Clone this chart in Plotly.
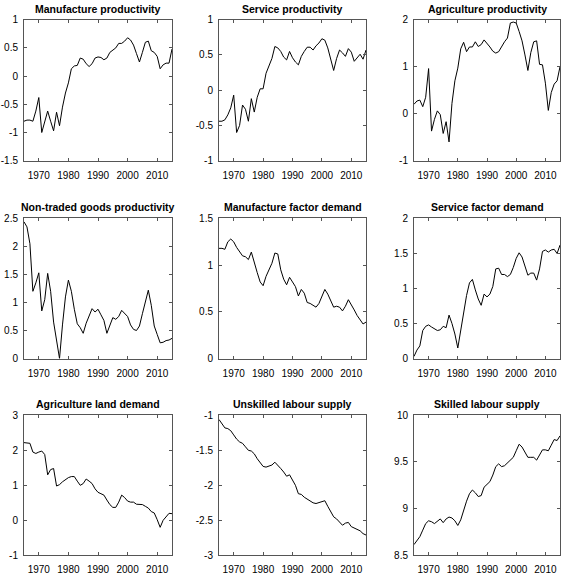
import plotly.graph_objects as go

years = list(range(1965, 2016))

titles = ["Manufacture productivity", "Service productivity", "Agriculture productivity",
          "Non-traded goods productivity", "Manufacture factor demand", "Service factor demand",
          "Agriculture land demand", "Unskilled labour supply", "Skilled labour supply"]

manuf_prod = [-0.80, -0.78, -0.78, -0.80, -0.62, -0.38, -1.00, -0.80, -0.62, -0.80,
              -0.97, -0.64, -0.88, -0.55, -0.30, -0.12, 0.13, 0.18, 0.19, 0.32,
              0.30, 0.22, 0.17, 0.22, 0.32, 0.34, 0.33, 0.29, 0.32, 0.42,
              0.46, 0.50, 0.58, 0.58, 0.62, 0.68, 0.64, 0.55, 0.40, 0.25,
              0.42, 0.60, 0.62, 0.45, 0.42, 0.35, 0.13, 0.20, 0.23, 0.23, 0.48]
service_prod = [-0.44, -0.44, -0.42, -0.35, -0.25, -0.07, -0.60, -0.50, -0.21, -0.27,
                -0.44, -0.12, -0.31, -0.10, 0.02, 0.02, 0.24, 0.35, 0.45, 0.62,
                0.60, 0.55, 0.47, 0.43, 0.55, 0.46, 0.40, 0.36, 0.48, 0.55,
                0.61, 0.61, 0.57, 0.63, 0.67, 0.73, 0.71, 0.60, 0.42, 0.28,
                0.45, 0.57, 0.53, 0.48, 0.59, 0.54, 0.41, 0.46, 0.51, 0.44, 0.57]
agri_prod = [0.20, 0.27, 0.29, 0.15, 0.35, 0.96, -0.37, -0.12, 0.06, -0.02,
             -0.42, -0.17, -0.60, 0.22, 0.70, 0.97, 1.38, 1.52, 1.32, 1.42,
             1.42, 1.53, 1.43, 1.47, 1.57, 1.50, 1.42, 1.33, 1.29, 1.32,
             1.44, 1.53, 1.61, 1.93, 1.95, 1.93, 1.75, 1.55, 1.25, 0.92,
             1.30, 1.53, 1.55, 1.05, 1.04, 0.65, 0.07, 0.45, 0.63, 0.70, 1.00]
nontraded_prod = [2.44, 2.35, 2.05, 1.20, 1.35, 1.53, 0.85, 1.05, 1.52, 1.20,
                  0.65, 0.35, 0.00, 0.60, 1.10, 1.40, 1.20, 0.88, 0.62, 0.55,
                  0.45, 0.63, 0.75, 0.89, 0.83, 0.88, 0.78, 0.68, 0.45, 0.60,
                  0.73, 0.70, 0.75, 0.86, 0.80, 0.75, 0.60, 0.52, 0.50, 0.58,
                  0.80, 1.02, 1.22, 0.95, 0.58, 0.43, 0.28, 0.29, 0.32, 0.33, 0.36]
manuf_demand = [1.18, 1.18, 1.17, 1.25, 1.28, 1.25, 1.19, 1.15, 1.10, 1.09,
                1.06, 1.14, 1.02, 0.92, 0.82, 0.78, 0.88, 0.95, 1.02, 1.13,
                1.12, 0.95, 0.85, 0.79, 0.87, 0.82, 0.77, 0.67, 0.74, 0.70,
                0.60, 0.59, 0.57, 0.55, 0.59, 0.66, 0.74, 0.69, 0.61, 0.55,
                0.56, 0.55, 0.51, 0.56, 0.63, 0.58, 0.52, 0.46, 0.41, 0.37, 0.39]
service_demand = [0.03, 0.12, 0.18, 0.40, 0.46, 0.48, 0.45, 0.42, 0.40, 0.41,
                  0.46, 0.44, 0.62, 0.50, 0.35, 0.15, 0.42, 0.68, 0.90, 1.08,
                  1.13, 0.98, 0.85, 0.76, 0.92, 0.88, 0.92, 1.03, 1.28, 1.29,
                  1.20, 1.20, 1.17, 1.20, 1.30, 1.43, 1.51, 1.45, 1.33, 1.19,
                  1.22, 1.22, 1.12, 1.28, 1.53, 1.55, 1.52, 1.55, 1.56, 1.50, 1.62]
land_demand = [2.22, 2.20, 2.20, 1.95, 1.91, 1.95, 1.98, 1.88, 1.30, 1.45,
               1.48, 0.98, 1.02, 1.10, 1.17, 1.22, 1.25, 1.25, 1.12, 1.00,
               1.05, 1.18, 1.12, 1.05, 0.90, 0.80, 0.76, 0.72, 0.58, 0.45,
               0.37, 0.37, 0.52, 0.72, 0.65, 0.55, 0.52, 0.52, 0.46, 0.45,
               0.45, 0.40, 0.35, 0.25, 0.21, 0.02, -0.20, 0.00, 0.10, 0.20, 0.19]
unskilled_supply = [-1.06, -1.12, -1.18, -1.19, -1.22, -1.28, -1.34, -1.38, -1.40, -1.45,
                    -1.50, -1.51, -1.55, -1.62, -1.68, -1.73, -1.74, -1.73, -1.71, -1.67,
                    -1.71, -1.76, -1.81, -1.87, -1.85, -1.92, -2.00, -2.12, -2.13, -2.17,
                    -2.20, -2.22, -2.25, -2.26, -2.25, -2.24, -2.22, -2.30, -2.38, -2.45,
                    -2.48, -2.52, -2.57, -2.54, -2.53, -2.59, -2.61, -2.63, -2.65, -2.69, -2.71]
skilled_supply = [8.615, 8.66, 8.70, 8.77, 8.84, 8.87, 8.86, 8.84, 8.87, 8.89,
                  8.85, 8.89, 8.91, 8.90, 8.87, 8.82, 8.88, 8.99, 9.08, 9.16,
                  9.20, 9.17, 9.13, 9.14, 9.23, 9.26, 9.29, 9.36, 9.45, 9.48,
                  9.45, 9.46, 9.49, 9.52, 9.55, 9.62, 9.69, 9.66, 9.60, 9.55,
                  9.55, 9.55, 9.52, 9.57, 9.63, 9.63, 9.62, 9.68, 9.74, 9.73, 9.78]

series = [manuf_prod, service_prod, agri_prod, nontraded_prod, manuf_demand,
          service_demand, land_demand, unskilled_supply, skilled_supply]

y_ranges = [[-1.5, 1], [-1, 1], [-1, 2], [0, 2.5], [0, 1.5], [0, 2], [-1, 3], [-3, -1], [8.5, 10]]
y_ticks = [[-1.5, -1, -0.5, 0, 0.5, 1], [-1, -0.5, 0, 0.5, 1], [-1, 0, 1, 2],
           [0, 0.5, 1, 1.5, 2, 2.5], [0, 0.5, 1, 1.5], [0, 0.5, 1, 1.5, 2],
           [-1, 0, 1, 2, 3], [-3, -2.5, -2, -1.5, -1], [8.5, 9, 9.5, 10]]
y_tick_labels = [["-1.5", "-1", "-0.5", "0", "0.5", "1"], ["-1", "-0.5", "0", "0.5", "1"],
                 ["-1", "0", "1", "2"], ["0", "0.5", "1", "1.5", "2", "2.5"],
                 ["0", "0.5", "1", "1.5"], ["0", "0.5", "1", "1.5", "2"],
                 ["-1", "0", "1", "2", "3"], ["-3", "-2.5", "-2", "-1.5", "-1"],
                 ["8.5", "9", "9.5", "10"]]
x_ticks = [1970, 1980, 1990, 2000, 2010]

W, H = 562, 577
col_px = [(24, 172), (219, 366), (414, 560)]
row_px = [(14, 158), (217, 360), (418, 561)]

fig = go.Figure()
font_family = "Liberation Sans, Arial, sans-serif"
annotations = []
for i in range(9):
    r, c = divmod(i, 3)
    n = "" if i == 0 else str(i + 1)
    xd = [col_px[c][0] / W, col_px[c][1] / W]
    yd = [1 - row_px[r][1] / H, 1 - row_px[r][0] / H]
    fig.add_trace(go.Scatter(x=years, y=series[i], mode="lines",
                             line=dict(color="black", width=1),
                             xaxis="x" + n, yaxis="y" + n, showlegend=False,
                             hoverinfo="skip"))
    common = dict(showgrid=False, zeroline=False, showline=True, linecolor="#555",
                  linewidth=1, mirror="ticks", ticks="inside", ticklen=3,
                  tickcolor="#555", tickfont=dict(size=10, color="black", family=font_family))
    fig.layout["xaxis" + n] = dict(domain=xd, anchor="y" + n, range=[1965, 2015],
                                   tickvals=x_ticks, ticklabelstandoff=5, **common)
    fig.layout["yaxis" + n] = dict(domain=yd, anchor="x" + n, range=y_ranges[i],
                                   tickvals=y_ticks[i], ticktext=y_tick_labels[i],
                                   ticklabelstandoff=3, **common)
    annotations.append(dict(text="<b>" + titles[i] + "</b>", x=(xd[0] + xd[1]) / 2,
                            y=yd[1], xref="paper", yref="paper", xanchor="center",
                            yanchor="bottom", yshift=3, showarrow=False,
                            font=dict(size=10.5, color="black", family=font_family)))

fig.update_layout(width=W, height=H, margin=dict(l=0, r=0, t=0, b=0),
                  paper_bgcolor="white", plot_bgcolor="white",
                  annotations=annotations)
fig.write_html("out.html", config={"displayModeBar": False},
               post_script="document.body.style.margin='0';document.body.style.padding='0';document.body.style.overflow='hidden';")
